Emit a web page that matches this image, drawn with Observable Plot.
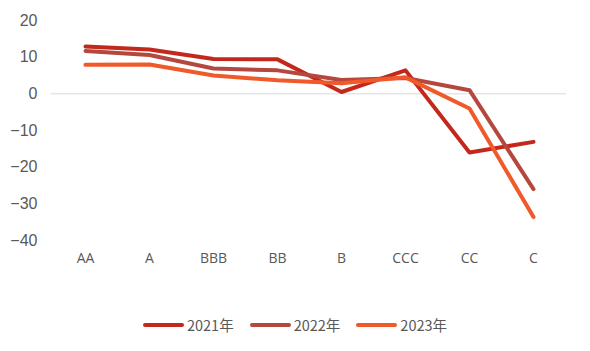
<!DOCTYPE html>
<html><head><meta charset="utf-8">
<script src="https://cdn.jsdelivr.net/npm/d3@7"></script>
<script src="https://cdn.jsdelivr.net/npm/@observablehq/plot@0.6"></script>
<style>
html,body{margin:0;padding:0;background:#fff;}
#chart{width:590px;height:351px;position:relative;}
#legend{display:flex;justify-content:center;align-items:center;gap:0;margin-top:14px;font-family:"Noto Sans CJK SC","Noto Sans",sans-serif;font-size:14.5px;color:#595959;}
.item{display:flex;align-items:center;margin:0 8px;}
.sw{width:41px;height:4px;border-radius:2px;margin-right:3px;}
</style></head>
<body><div id="chart"></div>
<script>
const categories = ["AA","A","BBB","BB","B","CCC","CC","C"];
const seriesNames = ["2021年","2022年","2023年"];
const values2021 = [12.9, 12.1, 9.5, 9.4, 0.5, 6.4, -16.0, -13.1];
const values2022 = [11.7, 10.6, 6.9, 6.4, 3.8, 4.3, 1.0, -26.0];
const values2023 = [7.9, 8.0, 5.0, 3.7, 2.9, 4.5, -4.0, -33.6];
const colors = ["#C4281C", "#B5483E", "#F05A2A"];
const yTicks = [20, 10, 0, -10, -20, -30, -40];

const allSeries = [values2021, values2022, values2023];
const data = [];
allSeries.forEach((vals, si) => vals.forEach((v, i) => data.push({cat: categories[i], value: v, series: seriesNames[si]})));

const plot = Plot.plot({
  width: 590, height: 300,
  marginLeft: 51, marginRight: 24, marginTop: 20, marginBottom: 60,
  style: {color: "#595959", background: "#fff", fontSize: "14px", fontFamily: "'Open Sans', sans-serif"},
  x: {type: "band", domain: categories, padding: 0},
  y: {domain: [-40, 20], ticks: yTicks},
  color: {domain: seriesNames, range: colors},
  marks: [
    Plot.ruleY([0], {stroke: "#d9d9d9", strokeWidth: 1}),
    Plot.axisY({ticks: yTicks, tickSize: 0, tickPadding: 14, label: null, fontSize: 16, fontFamily: "'Liberation Sans', Arial, sans-serif"}),
    Plot.axisX({tickSize: 0, tickPadding: 13, label: null, fontSize: 14}),
    Plot.line(data, {x: "cat", y: "value", z: "series", stroke: "series", strokeWidth: 4, strokeLinejoin: "round", strokeLinecap: "round"})
  ]
});
document.getElementById("chart").appendChild(plot);
const leg = document.createElement("div");
leg.id = "legend";
seriesNames.forEach((n, i) => {
  const it = document.createElement("div"); it.className = "item";
  const sw = document.createElement("div"); sw.className = "sw"; sw.style.background = colors[i];
  const t = document.createElement("span"); t.textContent = n;
  it.appendChild(sw); it.appendChild(t); leg.appendChild(it);
});
document.getElementById("chart").appendChild(leg);
</script></body></html>
